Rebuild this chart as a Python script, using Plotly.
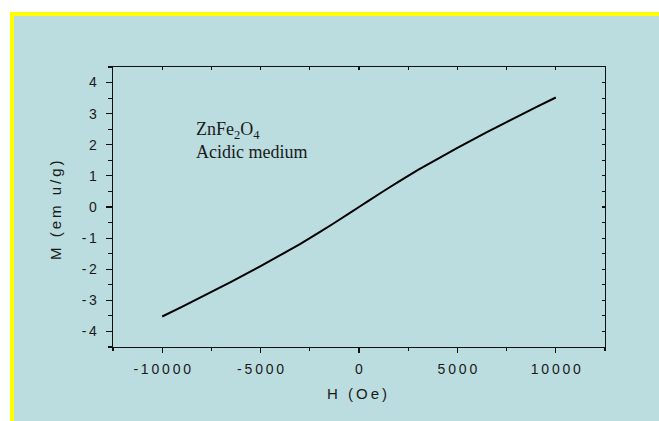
import plotly.graph_objects as go

# Data
H_Oe = [-10000, -9000, -8000, -7000, -6000, -5000, -4000, -3000, -2000, -1000, 0,
        1000, 2000, 3000, 4000, 5000, 6000, 7000, 8000, 9000, 10000]
M_emu_g = [-3.52, -3.21, -2.89, -2.57, -2.24, -1.90, -1.55, -1.19, -0.81, -0.41, 0.0,
           0.41, 0.81, 1.19, 1.55, 1.90, 2.24, 2.57, 2.89, 3.21, 3.52]

x_ticks = [-10000, -5000, 0, 5000, 10000]
y_ticks = [-4, -3, -2, -1, 0, 1, 2, 3, 4]

TS = "\u2009"  # thin space used to mimic the spaced-out lettering


def spaced(s):
    return TS.join(list(s))


x_ticktext = [spaced(str(v)) for v in x_ticks]
y_ticktext = [spaced(str(v)) for v in y_ticks]

W, Hh = 659, 421
L, R, T, B = 113, 54, 67, 74
PW, PH = W - L - R, Hh - T - B


def px_x(p):
    return (p - L) / PW


def px_y(p):
    return (Hh - B - p) / PH


BLUE = "#bbdde0"
YELLOW = "#ffff00"
TXT = "#1a1a1a"
sans = "Liberation Sans, Arial, sans-serif"
serif = "Liberation Serif, Times New Roman, serif"

fig = go.Figure()
fig.add_trace(go.Scatter(x=H_Oe, y=M_emu_g, mode="lines",
                         line=dict(color="black", width=2, shape="spline", smoothing=0.6),
                         showlegend=False, hoverinfo="skip"))
# invisible trace to activate the mirrored top/right axes
fig.add_trace(go.Scatter(x=H_Oe, y=M_emu_g, mode="lines", xaxis="x2", yaxis="y2",
                         opacity=0, showlegend=False, hoverinfo="skip"))

axis_common = dict(showline=True, linecolor="#111111", linewidth=1.3, showgrid=False,
                   zeroline=False, tickcolor="#111111", tickwidth=1.2)

fig.update_layout(
    width=W, height=Hh,
    margin=dict(l=L, r=R, t=T, b=B, pad=0),
    paper_bgcolor="white",
    plot_bgcolor="rgba(0,0,0,0)",
    showlegend=False,
    hovermode=False,
    xaxis=dict(range=[-12500, 12500], tickvals=x_ticks, ticktext=x_ticktext,
               ticks="outside", ticklen=5,
               minor=dict(dtick=2500, tick0=0, ticks="outside", ticklen=3,
                          tickcolor="#111111", tickwidth=1.2),
               tickfont=dict(family=sans, size=14, color=TXT),
               ticklabelstandoff=4, **axis_common),
    yaxis=dict(range=[-4.5, 4.5], tickvals=y_ticks, ticktext=y_ticktext,
               ticks="outside", ticklen=6,
               minor=dict(dtick=0.5, tick0=0, ticks="outside", ticklen=4,
                          tickcolor="#111111", tickwidth=1.2),
               tickfont=dict(family=sans, size=14, color=TXT),
               ticklabelstandoff=6, **axis_common),
    xaxis2=dict(range=[-12500, 12500], overlaying="x", side="top", anchor="y",
                dtick=2500, tick0=0, ticks="inside", ticklen=3,
                showticklabels=False, **axis_common),
    yaxis2=dict(range=[-4.5, 4.5], overlaying="y", side="right", anchor="x",
                dtick=0.5, tick0=0, ticks="inside", ticklen=3,
                showticklabels=False, **axis_common),
    shapes=[
        dict(type="rect", xref="paper", yref="paper", layer="below",
             x0=px_x(10), x1=px_x(W + 2), y0=px_y(Hh + 2), y1=px_y(12),
             fillcolor=YELLOW, line=dict(width=0)),
        dict(type="rect", xref="paper", yref="paper", layer="below",
             x0=px_x(14), x1=px_x(W + 2), y0=px_y(Hh + 2), y1=px_y(16),
             fillcolor=BLUE, line=dict(width=0)),
    ],
    annotations=[
        dict(text="ZnFe<sub>2</sub>O<sub>4</sub>", xref="x", yref="y",
             x=-8400, y=(207 - 131) / 31.1, xanchor="left", yanchor="middle",
             showarrow=False, font=dict(family=serif, size=18, color=TXT)),
        dict(text="Acidic medium", xref="x", yref="y",
             x=-8400, y=(207 - 152) / 31.1, xanchor="left", yanchor="middle",
             showarrow=False, font=dict(family=serif, size=18, color=TXT)),
        dict(text=spaced("H (Oe)"), xref="paper", yref="paper",
             x=px_x(357), y=px_y(393), xanchor="center", yanchor="middle",
             showarrow=False, font=dict(family=sans, size=15, color=TXT)),
        dict(text=spaced("M (em u/g)"), xref="paper", yref="paper",
             x=px_x(55), y=px_y(210), xanchor="center", yanchor="middle",
             textangle=-90, showarrow=False,
             font=dict(family=sans, size=15, color=TXT)),
    ],
)

fig.write_html("out.html",
               config={"displayModeBar": False, "staticPlot": True},
               post_script="document.body.style.margin='0';"
                           "document.body.style.overflow='hidden';")
